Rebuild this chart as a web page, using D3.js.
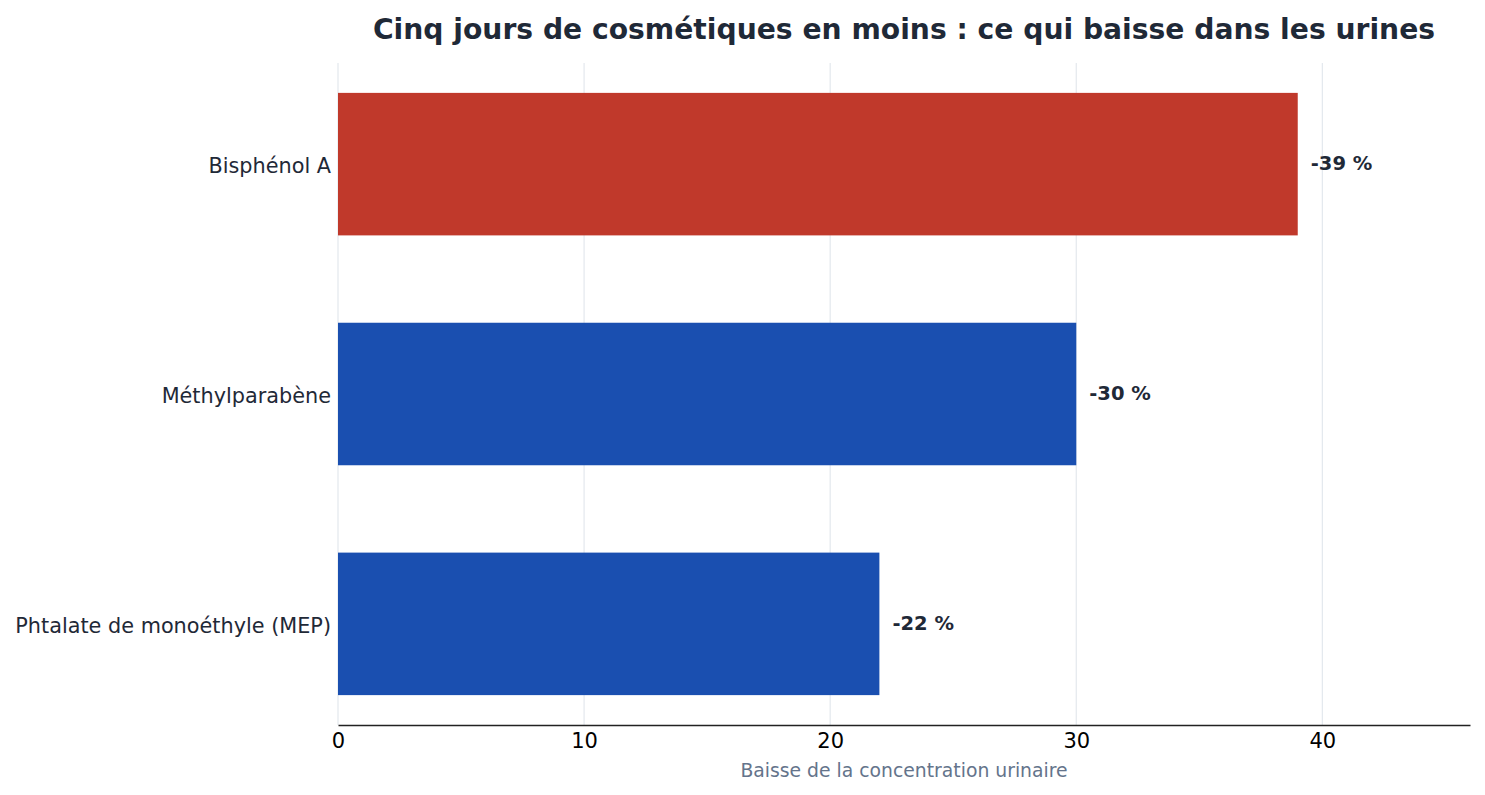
<!DOCTYPE html>
<html>
<head>
<meta charset="utf-8">
<script src="https://cdn.jsdelivr.net/npm/d3@7"></script>
<style>
  body { margin: 0; background: #fff; }
  svg { font-family: "DejaVu Sans", sans-serif; }
</style>
</head>
<body>
<div id="chart"></div>
<script>
// data
const categories = ['Bisphénol A', 'Méthylparabène', 'Phtalate de monoéthyle (MEP)'];
const values = [39, 30, 22];
const labels = ['-39 %', '-30 %', '-22 %'];
const barColors = ['#c0392b', '#1a4fb0', '#1a4fb0'];
const xTicks = [0, 10, 20, 30, 40];

const width = 1485, height = 795;
const margin = { top: 63, right: 15, bottom: 70, left: 338 };

const svg = d3.select('#chart').append('svg')
    .attr('width', width).attr('height', height);

const x = d3.scaleLinear().domain([0, 46]).range([margin.left, width - margin.right]);
// index 0 at top, matplotlib-like padding
const y = d3.scaleLinear().domain([-0.44, 2.44]).range([margin.top, height - margin.bottom]);
const barH = y(0.62) - y(0);

// grid
svg.append('g').selectAll('line')
    .data(xTicks)
    .join('line')
    .attr('x1', d => x(d)).attr('x2', d => x(d))
    .attr('y1', margin.top).attr('y2', height - margin.bottom)
    .style('stroke', '#e3e8ed').style('stroke-width', 1.2);

// bars
svg.append('g').selectAll('rect')
    .data(values)
    .join('rect')
    .attr('x', x(0))
    .attr('y', (d, i) => y(i) - barH / 2)
    .attr('width', d => x(d) - x(0))
    .attr('height', barH)
    .style('fill', (d, i) => barColors[i]);

// value labels
svg.append('g').selectAll('text')
    .data(values)
    .join('text')
    .attr('x', d => x(d) + 13)
    .attr('y', (d, i) => y(i))
    .attr('dy', '0.32em')
    .attr('font-size', 19.5)
    .attr('font-weight', 'bold')
    .style('fill', '#1f2937')
    .text((d, i) => labels[i]);

// x axis
const xAxis = svg.append('g')
    .attr('transform', `translate(0,${height - margin.bottom})`)
    .call(d3.axisBottom(x).tickValues(xTicks).tickSize(0).tickPadding(8));
xAxis.select('.domain').style('stroke', '#222').style('stroke-width', 1.5);
xAxis.selectAll('text').attr('font-size', 21).attr('font-family', 'DejaVu Sans').style('fill', '#000');

// y labels
svg.append('g').selectAll('text')
    .data(categories)
    .join('text')
    .attr('x', margin.left - 7)
    .attr('y', (d, i) => y(i))
    .attr('dy', '0.45em')
    .attr('text-anchor', 'end')
    .attr('font-size', 20.8)
    .style('fill', '#1f2937')
    .text(d => d);

// axis title
svg.append('text')
    .attr('x', (x(0) + x(46)) / 2)
    .attr('y', 777)
    .attr('text-anchor', 'middle')
    .attr('font-size', 18.8)
    .style('fill', '#64748b')
    .text('Baisse de la concentration urinaire');

// title
svg.append('text')
    .attr('x', (x(0) + x(46)) / 2)
    .attr('y', 39)
    .attr('text-anchor', 'middle')
    .attr('font-size', 28.2)
    .attr('font-weight', 'bold')
    .style('fill', '#1f2937')
    .text('Cinq jours de cosmétiques en moins : ce qui baisse dans les urines');
</script>
</body>
</html>
